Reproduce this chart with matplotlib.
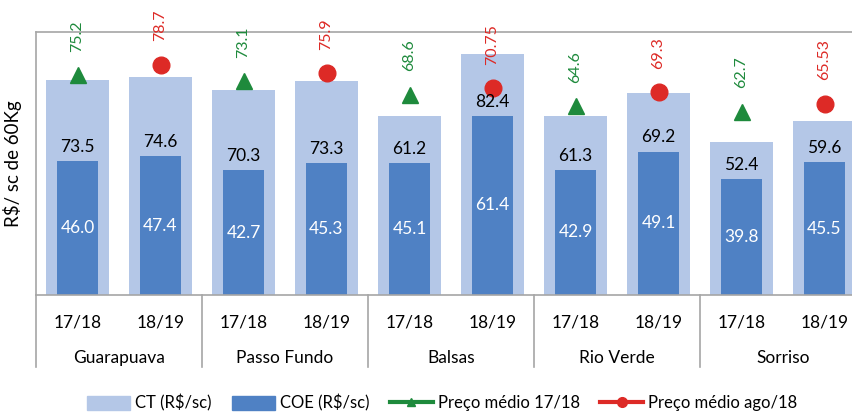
import matplotlib
matplotlib.use("Agg")
import matplotlib.pyplot as plt
from matplotlib.patches import Patch
from matplotlib.lines import Line2D
import numpy as np

plt.rcParams['font.family'] = ['Lato', 'DejaVu Sans']

cities = ['Guarapuava', 'Passo Fundo', 'Balsas', 'Rio Verde', 'Sorriso']
seasons = ['17/18', '18/19']
ct = [73.5, 74.6, 70.3, 73.3, 61.2, 82.4, 61.3, 69.2, 52.4, 59.6]
coe = [46.0, 47.4, 42.7, 45.3, 45.1, 61.4, 42.9, 49.1, 39.8, 45.5]
preco_1718 = [75.2, 73.1, 68.6, 64.6, 62.7]
preco_ago18 = [78.7, 75.9, 70.75, 69.3, 65.53]

c_ct = '#B4C7E7'
c_coe = '#4F81C4'
c_green = '#1E8A3C'
c_red = '#DD2A26'
c_grid = '#A6A6A6'

fig = plt.figure(figsize=(8.52, 4.12), dpi=100)
ax = fig.add_axes([36/852, 117/412, 830/852, 263/412])

x = np.arange(len(ct))
ax.bar(x, ct, width=0.77, color=c_ct, zorder=1)
ax.bar(x, coe, width=0.49, color=c_coe, zorder=2)

# COE value inside dark bar, CT value just above it
for xi, v, c in zip(x, coe, ct):
    ax.text(xi, v / 2, f"{v:.1f}", ha='center', va='center', color='white', fontsize=12.5, zorder=3)
    ax.text(xi, v + 4.8, f"{c:.1f}", ha='center', va='center', color='black', fontsize=12.5, zorder=5)

x1 = x[0::2]
x2 = x[1::2]
ax.plot(x1, preco_1718, ls='none', marker='^', ms=12, color=c_green, zorder=4)
ax.plot(x2, preco_ago18, ls='none', marker='o', ms=12, color=c_red, zorder=4)
for xi, v in zip(x1, preco_1718):
    ax.annotate(f"{v:g}", (xi, v), xytext=(0, 17), textcoords='offset points',
                rotation=90, ha='center', va='bottom', color=c_green, fontsize=11.5)
for xi, v in zip(x2, preco_ago18):
    ax.annotate(f"{v:g}", (xi, v), xytext=(0, 17), textcoords='offset points',
                rotation=90, ha='center', va='bottom', color=c_red, fontsize=11.5)

ax.set_xlim(-0.5, len(ct) - 0.5)
ax.set_ylim(0, 90)
ax.set_xticks([])
ax.set_yticks([])
for s in ['top', 'left', 'right', 'bottom']:
    ax.spines[s].set_color(c_grid)
    ax.spines[s].set_linewidth(1.2)
ax.set_ylabel('R$/ sc de 60Kg', fontsize=13.5, labelpad=10)

trans = ax.get_xaxis_transform()
for i in range(len(ct)):
    ax.text(i, -0.103, seasons[i % 2], transform=trans, ha='center', va='center', fontsize=12.5)
for j, name in enumerate(cities):
    ax.text(2 * j + 0.5, -0.24, name, transform=trans, ha='center', va='center', fontsize=12.5)
for j in range(len(cities) + 1):
    ax.plot([2 * j - 0.5, 2 * j - 0.5], [0, -0.274], transform=trans, color=c_grid,
            lw=1.2, clip_on=False)

handles = [
    Patch(color=c_ct, label='CT (R$/sc)'),
    Patch(color=c_coe, label='COE (R$/sc)'),
    Line2D([], [], color=c_green, lw=3, marker='^', ms=6, label='Preço médio 17/18'),
    Line2D([], [], color=c_red, lw=3, marker='o', ms=7, label='Preço médio ago/18'),
]
fig.legend(handles=handles, loc='center', bbox_to_anchor=(0.519, 0.022), ncol=4,
           frameon=False, fontsize=12, handlelength=2.6, handletextpad=0.3,
           columnspacing=1.2, handleheight=0.9)

fig.savefig('out.png', dpi=100)
